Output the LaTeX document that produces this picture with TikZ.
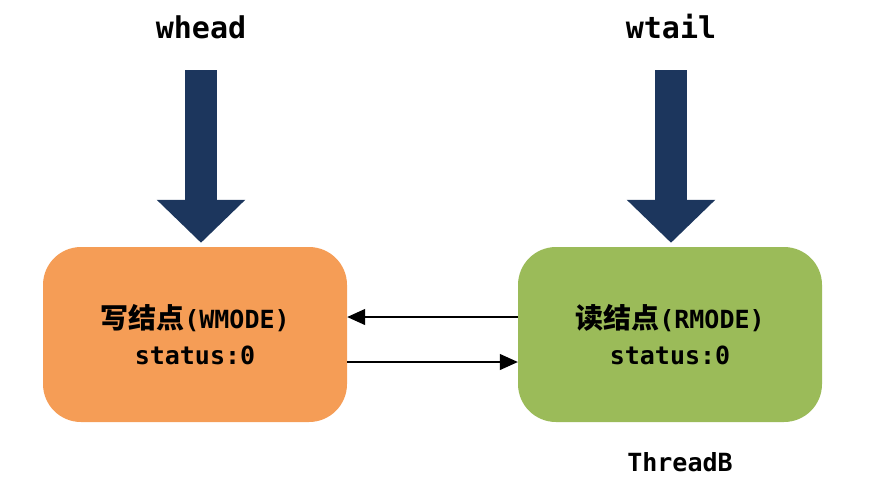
\documentclass[tikz,border=0pt]{standalone}
\usepackage{fontspec}
\setmainfont{DejaVu Sans Mono}
\newfontfamily\cjk{Noto Sans CJK SC Bold}
\usetikzlibrary{arrows.meta}
\definecolor{wfill}{RGB}{245,157,86}
\definecolor{rfill}{RGB}{155,187,89}
\definecolor{navy}{RGB}{28,54,93}
\begin{document}
\begin{tikzpicture}[x=1pt,y=-1pt,
  pointer/.style={font=\bfseries\fontsize{30}{30}\selectfont},
  nodebox/.style={rounded corners=38pt, minimum width=304pt, minimum height=175pt,
    inner sep=0pt, align=center, font=\bfseries\fontsize{25}{36}\selectfont},
  bigarrow/.style={draw=navy, line width=32pt, -{Triangle[length=43pt,width=86pt,fill=navy]}},
  link/.style={draw, line width=1.2pt, -{Triangle[length=18pt,width=16pt]}}]
\useasboundingbox (0,0) rectangle (890,483);

\node[pointer] (whead) at (201,27) {whead};
\node[pointer] (wtail) at (671,27) {wtail};

\node[nodebox, fill=wfill] (wnode) at (195,334.5) {{\cjk\fontsize{28}{36}\selectfont 写结点}(WMODE)\\status:0};
\node[nodebox, fill=rfill] (rnode) at (670,334.5) {{\cjk\fontsize{28}{36}\selectfont 读结点}(RMODE)\\status:0};

\node[font=\bfseries\fontsize{25}{25}\selectfont] (thread) at (680,462) {ThreadB};

\path[bigarrow] ([yshift=-43pt]whead.center) -- ([yshift=4pt]whead.center |- wnode.north);
\path[bigarrow] ([yshift=-43pt]wtail.center) -- ([yshift=4pt]wtail.center |- rnode.north);

\path[link] ([yshift=17.5pt]rnode.west) -- ([yshift=17.5pt]wnode.east);
\path[link] ([yshift=-27.5pt]wnode.east) -- ([yshift=-27.5pt]rnode.west);
\end{tikzpicture}
\end{document}
